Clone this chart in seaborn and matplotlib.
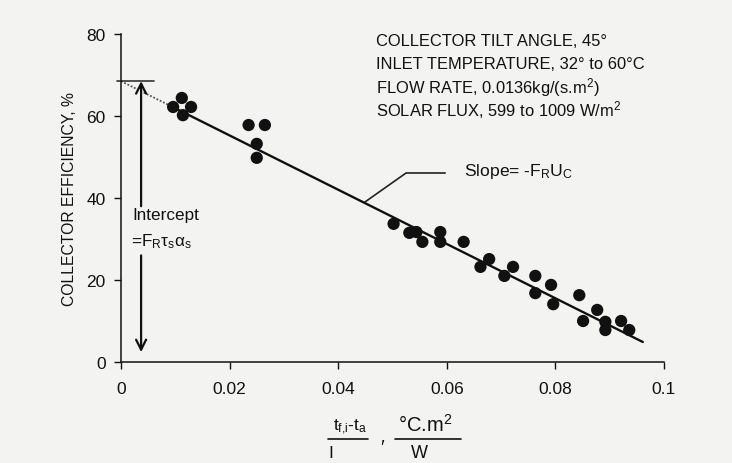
import matplotlib
matplotlib.use("Agg")
import matplotlib.pyplot as plt
import seaborn as sns
import pandas as pd

flow_param = [0.0096, 0.0112, 0.0129, 0.0114,
              0.0235, 0.0265, 0.0250, 0.0250,
              0.0502, 0.0531, 0.0544, 0.0555, 0.0588, 0.0588, 0.0631,
              0.0662, 0.0678, 0.0706, 0.0722, 0.0763, 0.0792, 0.0763,
              0.0796, 0.0844, 0.0877, 0.0851, 0.0892, 0.0892, 0.0921, 0.0936]
efficiency = [62.2, 64.4, 62.2, 60.2,
              57.8, 57.8, 53.2, 49.8,
              33.7, 31.5, 31.7, 29.3, 31.7, 29.3, 29.3,
              23.2, 25.1, 21.0, 23.2, 21.0, 18.8, 16.8,
              14.1, 16.3, 12.7, 10.0, 9.8, 7.8, 10.0, 7.8]

intercept = 68.5      # F_R tau alpha, %
slope = -662.0        # -F_R U_C
fit_start, fit_end = 0.0088, 0.0961

notes = ["COLLECTOR TILT ANGLE, 45°",
         "INLET TEMPERATURE, 32° to 60°C",
         "FLOW RATE, 0.0136kg/(s.m$^2$)",
         "SOLAR FLUX, 599 to 1009 W/m$^2$"]

df = pd.DataFrame({"x": flow_param, "eff": efficiency})

sns.set_theme(style="white")
plt.rcParams["font.family"] = ["Liberation Sans", "DejaVu Sans"]
plt.rcParams["mathtext.default"] = "regular"

W, H = 732, 464
ink = "#111111"
fig = plt.figure(figsize=(W / 100, H / 100), dpi=100)
fig.patch.set_facecolor("#f3f3f1")
ax = fig.add_axes([121 / W, 1 - 363 / H, (664 - 121) / W, (363 - 35) / H])
ax.set_facecolor("#f3f3f1")

def fpx(x, y):
    return x / W, 1 - y / H

# fitted line: dotted extrapolation back to the axis, then solid
ax.plot([0, fit_start], [intercept, intercept + slope * fit_start],
        color="#555555", lw=1.3, ls=(0, (1, 1)))
fit = pd.DataFrame({"x": [fit_start, fit_end],
                    "eff": [intercept + slope * fit_start, intercept + slope * fit_end]})
sns.lineplot(data=fit, x="x", y="eff", ax=ax, color=ink, lw=1.7)

sns.scatterplot(data=df, x="x", y="eff", ax=ax, color=ink, s=78,
                edgecolor="none", zorder=3)

# intercept marker
ax.plot([-0.0007, 0.006], [intercept, intercept], color="#333333", lw=1.2, clip_on=False)
ax.annotate("", xy=(0.0037, intercept), xytext=(0.0037, 38.0),
            arrowprops=dict(arrowstyle="->", lw=1.6, color=ink,
                            mutation_scale=18, shrinkA=0, shrinkB=0))
ax.annotate("", xy=(0.0037, 2.4), xytext=(0.0037, 26.0),
            arrowprops=dict(arrowstyle="->", lw=1.6, color=ink,
                            mutation_scale=18, shrinkA=0, shrinkB=0))
ax.text(0.0021, 35.9, "Intercept", fontsize=12.3, va="center", ha="left", color=ink)
ax.text(0.0019, 29.5, r"=F$_R$τ$_s$α$_s$", fontsize=12.3, va="center", ha="left", color=ink)

# slope leader
ax.plot([0.0449, 0.0525, 0.0597], [39.0, 46.1, 46.1], color="#222222", lw=1.2)
ax.text(0.0632, 46.6, r"Slope= -F$_R$U$_C$", fontsize=12.6, va="center", ha="left", color=ink)

for i, line in enumerate(notes):
    ax.text(0.047, 78.3 - i * 5.55, line, fontsize=11.9, va="center", ha="left", color=ink)

ax.set_xlim(0, 0.1)
ax.set_ylim(0, 80)
ax.set_xticks([0, 0.02, 0.04, 0.06, 0.08, 0.1])
ax.set_xticklabels(["0", "0.02", "0.04", "0.06", "0.08", "0.1"])
ax.set_yticks([0, 20, 40, 60, 80])
ax.tick_params(axis="both", direction="out", length=5, width=1, labelsize=12.5,
               colors=ink, bottom=True, left=True)
ax.tick_params(axis="x", pad=9)
ax.tick_params(axis="y", pad=6)
for side in ["top", "right"]:
    ax.spines[side].set_visible(False)
for side in ["left", "bottom"]:
    ax.spines[side].set_color(ink)
    ax.spines[side].set_linewidth(1.1)
ax.set_xlabel("")
ax.set_ylabel("COLLECTOR EFFICIENCY, %", fontsize=11.3, color=ink)
ax.yaxis.set_label_coords(-0.081, 0.5)

# x axis label written as two small fractions
fig.text(*fpx(350, 427), r"t$_{f{,}i}$-t$_a$", fontsize=12.5, ha="center", va="center", color=ink)
fig.add_artist(plt.Line2D([328 / W, 368 / W], [1 - 440 / H] * 2, color=ink, lw=1.2))
fig.text(*fpx(331, 454), "I", fontsize=12.5, ha="center", va="center", color=ink)
fig.text(*fpx(382, 449), "\u2032", fontsize=14, ha="center", va="center", color=ink)
fig.text(*fpx(425, 425), r"°C.m$^2$", fontsize=14.5, ha="center", va="center", color=ink)
fig.add_artist(plt.Line2D([395 / W, 461 / W], [1 - 440 / H] * 2, color=ink, lw=1.2))
fig.text(*fpx(419, 454), "W", fontsize=13, ha="center", va="center", color=ink)

fig.savefig("out.png", dpi=100, facecolor=fig.get_facecolor())
